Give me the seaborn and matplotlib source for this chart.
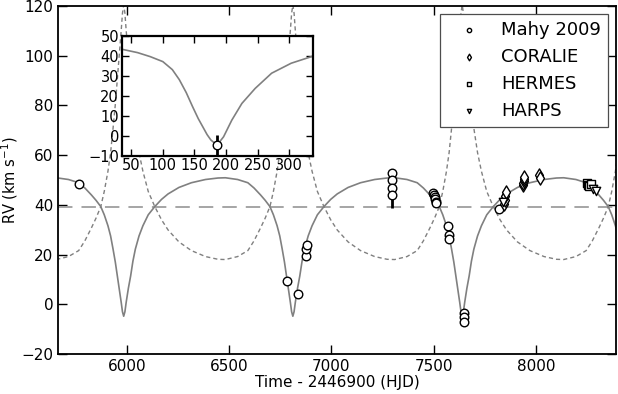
import numpy as np
import pandas as pd
import matplotlib
matplotlib.use("Agg")
import matplotlib.pyplot as plt
import seaborn as sns

# ---------------- data ----------------
# orbital model, one cycle: days relative to RV minimum
cycle_dt = [-330, -270, -220, -190, -158, -135, -112, -95, -77, -64, -52, -41, -31,
            -20, -12, -6, 0, 6, 12, 23, 34, 45, 57, 75, 94, 120, 152, 185, 217,
            270, 331, 400, 461]
cycle_rv_primary = [50.9, 50.2, 48.9, 46.8, 44.0, 41.8, 39.3, 36.0, 31.6, 27.5, 22.2,
                    17.0, 11.4, 5.5, 0.7, -3.0, -4.8, -3.0, 0.7, 6.5, 11.4, 17.3, 22.2,
                    27.5, 31.6, 36.0, 39.3, 42.2, 44.4, 47.0, 48.9, 50.2, 50.8]
cycle_rv_secondary = [18.0, 19.2, 21.6, 25.5, 30.7, 34.7, 39.3, 45.4, 53.5, 61.0, 70.8,
                      80.3, 90.6, 101.5, 110.3, 117.1, 120.4, 117.1, 110.3, 99.7, 90.6,
                      79.8, 70.8, 61.0, 53.5, 45.4, 39.3, 34.0, 29.9, 25.1, 21.6, 19.2,
                      18.1]
rv_minima_times = [5985, 6812, 7640, 8466]
systemic_rv = 39.3

mahy_t = [5766, 6784, 6838, 6876, 6878, 6880, 7297, 7297, 7297, 7297, 7496, 7500,
          7505, 7508, 7510, 7514, 7572, 7574, 7573, 7647, 7647, 7647, 7818]
mahy_rv = [48.4, 9.3, 4.0, 19.5, 22.3, 23.8, 52.9, 50.2, 46.9, 43.8, 44.7, 44.0,
           43.1, 42.4, 41.3, 40.8, 31.6, 28.0, 26.3, -3.6, -5.3, -7.0, 38.2]
mahy_err = [0, 0, 0, 0, 0, 0, 0, 0, 0, 5.0, 0, 0, 0, 0, 0, 0, 0, 0, 0, 0, 0, 0, 0]

coralie_t = [7843, 7847, 7850, 7855, 7936, 7938, 7940, 7942, 7944, 8016, 8020]
coralie_rv = [40.5, 42.0, 43.5, 45.0, 47.8, 48.8, 49.6, 50.4, 51.2, 52.0, 51.0]
hermes_t = [8250, 8255, 8262, 8268]
hermes_rv = [48.8, 48.0, 47.5, 48.3]
harps_t = [7838, 8280, 8296]
harps_rv = [41.0, 46.5, 45.6]

inset_x = [35, 60, 80, 100, 115, 126, 137, 147, 156, 163, 170, 176, 184, 190, 196,
           209, 225, 246, 272, 303, 337]
inset_rv = [43.2, 41.5, 39.5, 37.0, 33.0, 28.0, 21.5, 14.5, 8.5, 4.5, 0.5, -2.2,
            -4.3, -3.0, -0.6, 7.7, 16.1, 23.6, 31.2, 36.2, 39.7]
inset_pt_x = [185]
inset_pt_rv = [-4.7]
inset_pt_err = [5.0]

main_xticks = [6000, 6500, 7000, 7500, 8000]
main_yticks = [-20, 0, 20, 40, 60, 80, 100, 120]
inset_xticks = [50, 100, 150, 200, 250, 300]
inset_yticks = [-10, 0, 10, 20, 30, 40, 50]

# ---------------- style ----------------
sns.set_theme(style="ticks", rc={
    "xtick.direction": "in", "ytick.direction": "in",
    "xtick.top": True, "ytick.right": True,
    "xtick.major.size": 6.2, "ytick.major.size": 6.2,
    "xtick.major.width": 1.0, "ytick.major.width": 1.0,
    "axes.linewidth": 1.3, "axes.edgecolor": "black",
    "font.size": 11, "axes.labelsize": 11,
    "xtick.labelsize": 11, "ytick.labelsize": 11, "legend.fontsize": 13,
    "xtick.color": "black", "ytick.color": "black", "text.color": "black",
    "axes.labelcolor": "black",
})
plt.rcParams["font.family"] = ["DejaVu Sans"]

fig = plt.figure(figsize=(6.18, 3.94), dpi=100)
ax = fig.add_axes([0.0939, 0.1015, 0.9029, 0.8833])

t_model = np.concatenate([np.array(cycle_dt) + m for m in rv_minima_times])
model = pd.DataFrame({
    "t": t_model,
    "rv1": np.tile(cycle_rv_primary, len(rv_minima_times)),
    "rv2": np.tile(cycle_rv_secondary, len(rv_minima_times)),
})

sns.lineplot(data=model, x="t", y="rv2", ax=ax, color="0.5", lw=1.0,
             linestyle=(0, (3, 2.2)), sort=False, estimator=None, zorder=2)
sns.lineplot(data=model, x="t", y="rv1", ax=ax, color="0.5", lw=1.2,
             sort=False, estimator=None, zorder=2)
ax.axhline(systemic_rv, color="0.62", lw=1.3, dashes=(8, 5), zorder=1)

ax.errorbar(mahy_t, mahy_rv, yerr=mahy_err, fmt="none", ecolor="black",
            elinewidth=2, capsize=0, zorder=3)

common = dict(color="white", edgecolor="black", linewidth=1.0, zorder=5, ax=ax)
sns.scatterplot(x=mahy_t, y=mahy_rv, marker="o", s=38, label="Mahy 2009", **common)
sns.scatterplot(x=coralie_t, y=coralie_rv, marker="d", s=45, label="CORALIE", **common)
sns.scatterplot(x=hermes_t, y=hermes_rv, marker="s", s=32, label="HERMES", **common)
sns.scatterplot(x=harps_t, y=harps_rv, marker="v", s=36, label="HARPS", **common)

ax.set_xlim(5664, 8392)
ax.set_ylim(-20, 120)
ax.set_xticks(main_xticks)
ax.set_yticks(main_yticks)
ax.set_xlabel("Time - 2446900 (HJD)", labelpad=1)
ax.set_ylabel("RV (km s$^{-1}$)", fontsize=10.5)
ax.yaxis.set_label_coords(-0.069, 0.5)

leg = ax.legend(loc="upper right", markerscale=0.5, fancybox=False,
                edgecolor="0.3", framealpha=1, borderaxespad=0.45,
                handlelength=2.4, handletextpad=0.6, labelspacing=0.5,
                borderpad=0.38, scatterpoints=1)
leg.get_frame().set_linewidth(0.9)
leg.set_zorder(10)

# ---------------- inset ----------------
axi = fig.add_axes([0.197, 0.605, 0.309, 0.3046])
sns.lineplot(x=inset_x, y=inset_rv, ax=axi, color="0.5", lw=1.2, sort=False,
             estimator=None)
axi.errorbar(inset_pt_x, inset_pt_rv, yerr=inset_pt_err, fmt="none",
             ecolor="black", elinewidth=2, capsize=0, zorder=3)
sns.scatterplot(x=inset_pt_x, y=inset_pt_rv, ax=axi, marker="o", s=38,
                color="white", edgecolor="black", linewidth=1.0, zorder=5)
axi.set_xlim(35, 337)
axi.set_ylim(-10, 50)
axi.set_xticks(inset_xticks)
axi.set_yticks(inset_yticks)
axi.tick_params(length=4.8, pad=2, labelsize=10.5)
for s in axi.spines.values():
    s.set_linewidth(1.6)

fig.savefig("out.png", dpi=100)
